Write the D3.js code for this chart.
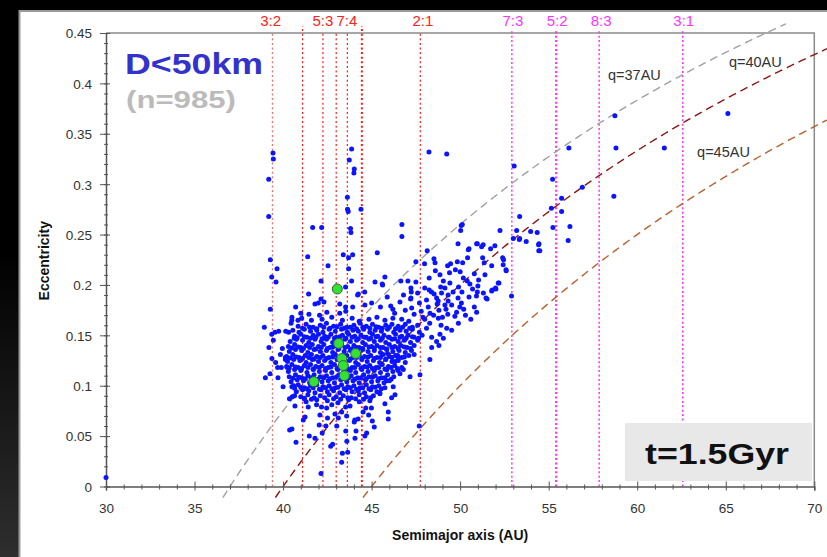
<!DOCTYPE html>
<html><head><meta charset="utf-8">
<script src="https://cdn.jsdelivr.net/npm/d3@7"></script>
<style>html,body{margin:0;padding:0;background:#000;overflow:hidden}</style>
</head><body><svg id="c" width="827" height="557"></svg>
<script>
// ---------- data ----------
const xTicks = [30,35,40,45,50,55,60,65,70];
const yTicks = [0,0.05,0.1,0.15,0.2,0.25,0.3,0.35,0.4,0.45];
const yTickLabels = ["0","0.05","0.1","0.15","0.2","0.25","0.3","0.35","0.4","0.45"];

const resRedA = [39.4,41.1,42.25,43.0,43.63,44.45,47.75];
const resRedLabelA = [39.3,42.25,43.6,47.9];
const resRedLabelText = ["3:2","5:3","7:4","2:1"];
const resMagA = [52.92,55.42,57.85,62.57];
const resMagLabelText = ["7:3","5:2","8:3","3:1"];

const qValues = [37,40,45];
const qEndA = [68.4,70.8,70.8];
const qColors = ["#a0a0a0","#8e1414","#b9602f"];
const qLabelText = ["q=37AU","q=40AU","q=45AU"];
const qLabelA = [58.35,65.18,63.38];
const qLabelE = [0.4034,0.4163,0.3265];

const greenPts = [[43.06,0.196],[43.14,0.142],[44.1,0.132],[43.32,0.127],[43.4,0.12],[43.46,0.110],[41.74,0.104]];

const kboSparse = [
[30.0,0.009],
[39.43,0.331],[39.45,0.325],[39.19,0.305],[39.19,0.268],[39.28,0.225],[39.36,0.208],[39.66,0.216],[39.6,0.203],[39.28,0.176],[38.94,0.158],[39.54,0.153],[39.36,0.151],[39.45,0.145],[39.2,0.138],[39.37,0.127],[39.58,0.123],[39.69,0.118],[39.26,0.112],[39.0,0.108],[39.71,0.108],
[39.96,0.137],[40.13,0.128],[40.24,0.118],[40.37,0.056],[40.5,0.057],[40.73,0.044],[40.71,0.178],[40.5,0.168],[40.45,0.162],[40.84,0.165],[40.31,0.153],[40.63,0.147],[40.6,0.1],[40.52,0.089],[40.67,0.08],
[43.87,0.335],[43.74,0.324],[44.02,0.315],[44.0,0.311],[43.63,0.287],[43.64,0.275],[43.68,0.273],[44.4,0.275],[41.67,0.257],[42.18,0.257],[43.81,0.256],[43.83,0.252],[46.71,0.26],[46.71,0.248],[48.24,0.332],[49.24,0.33],[53.05,0.318],[50.03,0.254],[50.06,0.259],
[41.39,0.228],[42.54,0.219],[42.14,0.204],[43.4,0.23],[43.7,0.227],[43.7,0.216],[45.32,0.232],[41.44,0.191],[43.53,0.198],[44.21,0.19],[44.61,0.193],[45.75,0.208],[45.62,0.2],[43.93,0.23],[43.87,0.204],[45.19,0.203],[45.6,0.201],
[53.36,0.268],[52.25,0.254],[53.19,0.254],[53.36,0.246],[53.73,0.243],[54.35,0.252],[54.43,0.24],[54.44,0.234],[52.9,0.189],[52.6,0.214],[52.4,0.227],[50.93,0.241],[51.3,0.24],[51.72,0.236],[51.96,0.239],[50.5,0.236],
[58.74,0.368],[65.12,0.37],[58.8,0.336],[61.53,0.336],[58.68,0.288],[56.14,0.336],[55.22,0.305],[56.9,0.297],[55.73,0.286],[55.15,0.276],[55.73,0.273],[55.24,0.257],[56.2,0.258],[56.1,0.244],[53.0,0.246],[53.98,0.253],[54.45,0.241],[54.5,0.234],[52.43,0.22],[51.27,0.227],[51.78,0.219],[52.19,0.202],[51.81,0.195],[52.0,0.197],[51.46,0.187],
[50.12,0.26],[53.34,0.245],[49.88,0.241],[50.97,0.241],[51.21,0.238],[50.46,0.235],[48.14,0.234],[48.52,0.226],[48.58,0.222],[49.84,0.223],[50.14,0.222],[50.42,0.227],[49.46,0.221],[49.29,0.219],[49.73,0.215],[52.45,0.225],[52.59,0.215],[51.36,0.222],[47.99,0.221],[47.5,0.223],
[48.25,0.207],[48.86,0.21],[49.05,0.204],[49.42,0.202],[49.14,0.197],[50.18,0.207],[50.4,0.204],[51.04,0.205],[50.55,0.201],[52.15,0.202],[52.02,0.196],[51.78,0.194],[50.97,0.193],[51.31,0.192],[49.91,0.198],
[46.65,0.204],[47.05,0.204],[47.5,0.203],[47.22,0.197],[47.24,0.193],[47.22,0.187],[45.88,0.188],[48.25,0.195],[48.38,0.193],[48.53,0.191],[48.67,0.187],[48.95,0.192],[48.76,0.184],[49.32,0.19],[49.32,0.184],[49.88,0.187],[50.07,0.182],[50.5,0.188],[50.92,0.189],[51.52,0.186],[48.2,0.178],[47.26,0.177],[46.08,0.179],[46.2,0.176],[49.14,0.18],[49.52,0.18],[49.98,0.178],
[50.93,0.173],[50.8,0.178],[49.9,0.162],[49.52,0.155],[49.24,0.157],[48.92,0.16],[48.77,0.167],[49.05,0.147],[48.8,0.14],[48.86,0.151],[48.39,0.148],[48.39,0.138],[48.29,0.126],[48.67,0.144],[48.1,0.157],[48.28,0.162],[48.0,0.166],[47.73,0.111],[47.17,0.109],[46.79,0.116],[46.6,0.112],[46.22,0.099],[46.32,0.091],[46.13,0.088],[45.75,0.082],[45.94,0.074],[45.94,0.067],[45.85,0.105],[45.47,0.092],[45.9,0.132],[46.47,0.13],[46.32,0.124],[45.85,0.116],[47.69,0.06],
[42.14,0.013],[43.31,0.024],[43.35,0.033],[43.65,0.034],[42.8,0.042],[42.69,0.04],[43.6,0.045],[41.48,0.05],[41.8,0.048],[42.21,0.053],[42.42,0.06],[42.04,0.061],[43.03,0.06],[43.54,0.055],[44.06,0.048],[44.12,0.055],[44.72,0.053],[44.62,0.05],[45.15,0.059],[45.04,0.065],[44.02,0.064],[42.08,0.071],[42.51,0.068],[41.24,0.069],[41.14,0.066],[42.46,0.078],[42.93,0.072],[43.12,0.068],[43.31,0.074],[43.59,0.07],[44.05,0.066],[44.24,0.067],[44.52,0.074],[44.83,0.071],[44.99,0.078],[44.67,0.078],[43.78,0.08],[43.53,0.079],[42.75,0.081],[42.17,0.079],[41.89,0.081],[41.42,0.079],[41.2,0.087],[40.65,0.09],[40.36,0.087],[45.46,0.093],
[44.25,0.191],[42.14,0.186],[42.31,0.183],[41.8,0.181],[41.99,0.182],[42.47,0.173],[42.06,0.17],[41.46,0.171],[41.0,0.172],[43.2,0.181],[43.53,0.178],[43.54,0.174],[43.2,0.172],[43.93,0.178],[44.62,0.18],[45.5,0.178],[45.0,0.182],[40.49,0.165],[40.15,0.154],[39.75,0.154],[40.13,0.126],[39.85,0.131],[40.0,0.099],[39.9,0.118]
];

const kboCore = [
[41.05,0.167],[41.6,0.165],[42.2,0.166],[42.75,0.168],[43.35,0.165],[43.9,0.167],[44.3,0.164],[44.85,0.166],[45.3,0.168],[45.75,0.165],[46.2,0.167],[46.7,0.166],[47.1,0.164],
[40.85,0.159],[41.3,0.161],[41.7,0.158],[42.1,0.16],[42.45,0.162],[42.85,0.159],[43.25,0.161],[43.6,0.158],[44.0,0.16],[44.35,0.162],[44.7,0.159],[45.05,0.161],[45.4,0.158],[45.8,0.16],[46.15,0.161],[46.5,0.159],[46.9,0.161],[47.3,0.158],[47.6,0.16],
[40.55,0.155],[40.9,0.153],[41.2,0.156],[41.55,0.154],[41.9,0.155],[42.25,0.153],[42.6,0.156],[42.95,0.154],[43.3,0.156],[43.62,0.153],[43.95,0.155],[44.25,0.154],[44.55,0.156],[44.9,0.153],[45.2,0.155],[45.55,0.154],[45.9,0.156],[46.25,0.153],[46.6,0.155],[46.95,0.154],[47.3,0.156],[47.7,0.153],
[40.65,0.149],[41.0,0.151],[41.35,0.148],[41.7,0.15],[42.0,0.151],[42.35,0.149],[42.7,0.151],[43.0,0.148],[43.35,0.15],[43.7,0.151],[44.05,0.149],[44.4,0.15],[44.7,0.148],[45.05,0.151],[45.35,0.149],[45.7,0.15],[46.0,0.148],[46.35,0.151],[46.7,0.149],[47.05,0.15],[47.4,0.148],[47.85,0.15],
[40.4,0.144],[40.75,0.146],[41.1,0.145],[41.45,0.143],[41.8,0.146],[42.15,0.144],[42.45,0.146],[42.8,0.143],[43.15,0.145],[43.5,0.146],[43.8,0.144],[44.15,0.145],[44.5,0.143],[44.85,0.146],[45.15,0.144],[45.5,0.145],[45.8,0.143],[46.15,0.146],[46.5,0.144],[46.85,0.145],[47.2,0.143],[47.6,0.145],
[40.3,0.139],[40.65,0.141],[41.0,0.138],[41.3,0.14],[41.65,0.141],[42.0,0.139],[42.3,0.141],[42.65,0.138],[42.95,0.14],[43.3,0.141],[43.65,0.139],[44.0,0.14],[44.3,0.138],[44.65,0.141],[45.0,0.139],[45.3,0.14],[45.65,0.138],[46.0,0.141],[46.3,0.139],[46.65,0.14],[47.0,0.138],[47.4,0.14],
[40.35,0.134],[40.7,0.136],[41.05,0.135],[41.4,0.133],[41.75,0.136],[42.1,0.134],[42.45,0.135],[42.8,0.133],[43.1,0.136],[43.45,0.134],[43.8,0.135],[44.15,0.133],[44.5,0.136],[44.8,0.134],[45.15,0.135],[45.5,0.133],[45.85,0.136],[46.2,0.134],[46.55,0.135],[46.9,0.133],[47.25,0.135],
[40.2,0.129],[40.55,0.131],[40.9,0.128],[41.25,0.13],[41.6,0.131],[41.9,0.129],[42.25,0.13],[42.6,0.128],[42.95,0.131],[43.25,0.129],[43.6,0.13],[43.95,0.128],[44.3,0.131],[44.6,0.129],[44.95,0.13],[45.3,0.128],[45.65,0.131],[46.0,0.129],[46.35,0.13],[46.7,0.128],[47.1,0.13],[47.4,0.131],
[40.25,0.124],[40.6,0.126],[40.95,0.125],[41.3,0.123],[41.65,0.126],[42.0,0.124],[42.35,0.125],[42.7,0.123],[43.05,0.126],[43.4,0.124],[43.75,0.125],[44.1,0.123],[44.45,0.126],[44.75,0.124],[45.1,0.125],[45.45,0.123],[45.8,0.126],[46.15,0.124],[46.5,0.125],[46.9,0.123],
[40.2,0.119],[40.5,0.121],[40.85,0.118],[41.2,0.12],[41.55,0.121],[41.85,0.119],[42.2,0.12],[42.55,0.118],[42.9,0.121],[43.2,0.119],[43.55,0.12],[43.9,0.118],[44.25,0.121],[44.6,0.119],[44.9,0.12],[45.25,0.118],[45.6,0.121],[45.95,0.119],[46.3,0.12],[46.7,0.118],
[40.3,0.114],[40.65,0.116],[41.0,0.115],[41.35,0.113],[41.7,0.116],[42.05,0.114],[42.4,0.115],[42.75,0.113],[43.1,0.116],[43.45,0.114],[43.8,0.115],[44.1,0.113],[44.45,0.116],[44.8,0.114],[45.15,0.115],[45.5,0.113],[45.85,0.116],[46.2,0.114],[46.5,0.115],
[40.35,0.109],[40.7,0.111],[41.05,0.108],[41.4,0.11],[41.75,0.111],[42.1,0.109],[42.45,0.11],[42.8,0.108],[43.15,0.111],[43.5,0.109],[43.85,0.11],[44.2,0.108],[44.55,0.111],[44.85,0.109],[45.2,0.11],[45.55,0.108],[45.9,0.111],[46.25,0.109],
[40.45,0.104],[40.8,0.106],[41.15,0.105],[41.5,0.103],[41.85,0.106],[42.2,0.104],[42.55,0.105],[42.9,0.103],[43.25,0.106],[43.6,0.104],[43.95,0.105],[44.3,0.103],[44.65,0.106],[45.0,0.104],[45.35,0.105],[45.7,0.103],[46.0,0.105],
[40.5,0.099],[40.85,0.101],[41.2,0.098],[41.55,0.1],[41.9,0.101],[42.25,0.099],[42.6,0.1],[42.95,0.098],[43.3,0.101],[43.65,0.099],[44.0,0.1],[44.35,0.098],[44.7,0.101],[45.05,0.099],[45.4,0.1],[45.75,0.098],
[40.75,0.094],[41.1,0.096],[41.45,0.095],[41.8,0.093],[42.15,0.096],[42.5,0.094],[42.85,0.095],[43.2,0.093],[43.55,0.096],[43.9,0.094],[44.25,0.095],[44.6,0.093],[44.95,0.096],[45.3,0.094],
[41.0,0.089],[41.4,0.091],[41.75,0.088],[42.1,0.09],[42.6,0.091],[43.0,0.089],[43.4,0.09],[43.85,0.088],[44.3,0.091],[44.7,0.089],[45.1,0.09],
[41.3,0.084],[41.9,0.086],[42.5,0.085],[43.1,0.083],[43.7,0.086],[44.3,0.084],[44.9,0.085],
[46.3,0.172],[46.9,0.175],[47.4,0.171],[47.8,0.174],[48.3,0.172],[48.8,0.175],[49.3,0.171],[49.8,0.173],[50.3,0.17],[46.6,0.183],[47.2,0.186],[47.7,0.182],[48.1,0.185],[48.7,0.181],[49.2,0.176],[49.7,0.169],[50.2,0.176],[50.6,0.166],[47.9,0.168],[48.5,0.17],[49.0,0.168],[46.8,0.19],[47.6,0.192],[48.0,0.197],[48.9,0.198],[49.6,0.193],[50.1,0.193],[50.7,0.196],[51.0,0.199],[49.4,0.212],[50.0,0.213],[50.8,0.211],[51.4,0.21],[48.6,0.214]
];

const kboCoreFill = [
[41.1,0.157],[41.5,0.158],[41.9,0.1565],[42.3,0.158],[42.65,0.157],[43.05,0.1585],[43.45,0.157],[43.8,0.158],[44.15,0.1565],[44.5,0.158],[44.9,0.157],[45.25,0.1585],[45.6,0.157],[46.0,0.158],[46.35,0.1565],[46.75,0.158],[47.15,0.157],
[40.8,0.1475],[41.2,0.1485],[41.55,0.147],[41.85,0.148],[42.2,0.1465],[42.55,0.148],[42.9,0.147],[43.2,0.1485],[43.55,0.147],[43.9,0.148],[44.25,0.1465],[44.6,0.148],[44.95,0.147],[45.25,0.1485],[45.6,0.147],[45.95,0.148],[46.3,0.1465],[46.6,0.148],[46.95,0.147],[47.3,0.1485],[47.65,0.147],
[40.5,0.1375],[40.85,0.1385],[41.15,0.137],[41.5,0.138],[41.85,0.1365],[42.15,0.138],[42.5,0.137],[42.8,0.1385],[43.15,0.137],[43.5,0.138],[43.85,0.1365],[44.15,0.138],[44.5,0.137],[44.85,0.1385],[45.15,0.137],[45.5,0.138],[45.85,0.1365],[46.15,0.138],[46.5,0.137],[46.85,0.1385],[47.2,0.137],
[40.4,0.1275],[40.75,0.1285],[41.1,0.127],[41.45,0.128],[41.75,0.1265],[42.1,0.128],[42.45,0.127],[42.8,0.1285],[43.1,0.127],[43.45,0.128],[43.8,0.1265],[44.15,0.128],[44.45,0.127],[44.8,0.1285],[45.15,0.127],[45.5,0.128],[45.8,0.1265],[46.15,0.128],[46.5,0.127],[46.85,0.1285],
[40.35,0.1175],[40.7,0.1185],[41.05,0.117],[41.4,0.118],[41.7,0.1165],[42.05,0.118],[42.4,0.117],[42.7,0.1185],[43.05,0.117],[43.4,0.118],[43.7,0.1165],[44.05,0.118],[44.4,0.117],[44.75,0.1185],[45.05,0.117],[45.4,0.118],[45.75,0.1165],[46.1,0.118],[46.45,0.117],
[40.55,0.1075],[40.9,0.1085],[41.25,0.107],[41.6,0.108],[41.95,0.1065],[42.3,0.108],[42.65,0.107],[43.0,0.1085],[43.35,0.107],[43.7,0.108],[44.05,0.1065],[44.4,0.108],[44.7,0.107],[45.05,0.1085],[45.4,0.107],[45.75,0.108],[46.1,0.1065],
[40.65,0.0975],[41.0,0.0985],[41.35,0.097],[41.7,0.098],[42.05,0.0965],[42.4,0.098],[42.75,0.097],[43.1,0.0985],[43.45,0.097],[43.8,0.098],[44.15,0.0965],[44.5,0.098],[44.85,0.097],[45.2,0.0985],[45.55,0.097],
[41.2,0.0875],[41.6,0.0865],[42.35,0.088],[42.85,0.087],[43.25,0.0865],[43.65,0.088],[44.1,0.087],[44.55,0.0865],[44.95,0.088]
];

// ---------- drawing ----------
const W = 827, H = 557;
const svg = d3.select("#c");
const defs = svg.append("defs");
const lg = defs.append("linearGradient").attr("id","strip").attr("x1",0).attr("y1",0).attr("x2",0).attr("y2",1);
lg.append("stop").attr("offset","0.45").attr("stop-color","#000");
lg.append("stop").attr("offset","1").attr("stop-color","#2e2e2e");

svg.append("rect").attr("width",W).attr("height",H).attr("fill","#000");
svg.append("rect").attr("x",0).attr("y",0).attr("width",19).attr("height",H).attr("fill","url(#strip)");
svg.append("rect").attr("x",19.5).attr("y",11).attr("width",830).attr("height",560)
  .attr("fill","#fff").attr("stroke","#9a9a9a").attr("stroke-width",2);

const x = d3.scaleLinear().domain([30,70]).range([106,814.3]);
const y = d3.scaleLinear().domain([0,0.45]).range([486.5,33]);

// frame (top + right)
svg.append("path")
  .attr("d", `M${x(30)},${y(0.45)}H${x(70)}V${y(0)}`)
  .attr("fill","none").attr("stroke","#8a8a8a").attr("stroke-width",1.5);

// resonance lines
const gRes = svg.append("g");
gRes.selectAll("line.red").data(resRedA).join("line")
  .attr("x1",d=>x(d)).attr("x2",d=>x(d))
  .attr("y1",y(0)).attr("y2",(d,i)=> (i===1||i===5) ? y(0.45)-7 : y(0.45))
  .attr("stroke",(d,i)=> i===0 ? "#ff6a6a" : "#ff1a1a")
  .attr("stroke-width",(d,i)=> i===5 ? 2 : 1.2)
  .attr("stroke-dasharray","2,2.6");
gRes.selectAll("line.mag").data(resMagA).join("line")
  .attr("x1",d=>x(d)).attr("x2",d=>x(d))
  .attr("y1",y(0)).attr("y2",y(0.45)-2)
  .attr("stroke","#ff33ff")
  .attr("stroke-width",(d,i)=> i===1 ? 2.2 : 1.5)
  .attr("stroke-dasharray","2,2.4");

const labFont = "'Liberation Sans', Arial, sans-serif";
gRes.selectAll("text.rl").data(resRedLabelA).join("text")
  .attr("x",d=>x(d)).attr("y",26).attr("text-anchor","middle")
  .attr("font-family",labFont).attr("font-size",15).attr("fill","#ff2020")
  .text((d,i)=>resRedLabelText[i]);
gRes.selectAll("text.ml").data(resMagA).join("text")
  .attr("x",(d,i)=>x(d)+(i===2?2:1)).attr("y",26).attr("text-anchor","middle")
  .attr("font-family",labFont).attr("font-size",15).attr("fill","#ff33ff")
  .text((d,i)=>resMagLabelText[i]);

// perihelion curves
const line = d3.line().x(d=>x(d[0])).y(d=>y(d[1]));
qValues.forEach((q,i)=>{
  const a0 = q/1.011;
  const pts = d3.range(a0, qEndA[i]+0.001, 0.1).map(a=>[a, 1 - q/a]);
  svg.append("path").attr("d",line(pts)).attr("fill","none")
    .attr("stroke",qColors[i]).attr("stroke-width",1.4)
    .attr("stroke-dasharray","8,5");
  svg.append("text").attr("x",x(qLabelA[i])).attr("y",y(qLabelE[i]))
    .attr("font-family",labFont).attr("font-size",14.5).attr("fill","#333")
    .text(qLabelText[i]);
});

// axes
const axisCol = "#555";
const gx = svg.append("g").attr("transform",`translate(0,${y(0)})`);
gx.call(d3.axisBottom(x).tickValues(d3.range(30,71,1).filter(v=>v%5!==0)).tickFormat("").tickSizeOuter(0).tickSize(3));
gx.selectAll(".tick line").attr("y1",-2).attr("y2",3).attr("stroke",axisCol);
const gx2 = svg.append("g").attr("transform",`translate(0,${y(0)})`);
gx2.call(d3.axisBottom(x).tickValues(xTicks).tickSizeOuter(0).tickSize(4));
gx2.selectAll(".tick line").attr("y1",-5).attr("y2",4).attr("stroke",axisCol);
gx2.selectAll(".tick text").attr("y",26).attr("dy",0)
  .attr("font-family",labFont).attr("font-size",13.5).attr("fill","#333");
gx.select(".domain").remove();
gx2.select(".domain").attr("stroke",axisCol).attr("stroke-width",1.5);

const gy = svg.append("g").attr("transform",`translate(${x(30)},0)`);
gy.call(d3.axisLeft(y).tickValues(d3.range(0,0.451,0.01)).tickFormat("").tickSizeOuter(0));
gy.selectAll(".tick line").attr("x1",-2).attr("x2",2).attr("stroke",axisCol);
gy.select(".domain").remove();
const gy2 = svg.append("g").attr("transform",`translate(${x(30)},0)`);
gy2.call(d3.axisLeft(y).tickValues(yTicks).tickFormat((d,i)=>yTickLabels[i]).tickSizeOuter(0));
gy2.selectAll(".tick line").attr("x1",-6).attr("x2",4).attr("stroke",axisCol);
gy2.selectAll(".tick text").attr("x",-14).attr("dy","0.36em")
  .attr("font-family",labFont).attr("font-size",13.5).attr("fill","#333");
gy2.select(".domain").attr("stroke",axisCol).attr("stroke-width",1.5);
gx.selectAll("text").remove(); gy.selectAll("text").remove();

// axis titles
svg.append("text").attr("x",(x(30)+x(70))/2).attr("y",540).attr("text-anchor","middle")
  .attr("font-family",labFont).attr("font-weight","bold").attr("font-size",14).attr("fill","#111")
  .text("Semimajor axis (AU)");
svg.append("text").attr("transform",`translate(49,${(y(0)+y(0.45))/2+1}) rotate(-90)`)
  .attr("text-anchor","middle")
  .attr("font-family",labFont).attr("font-weight","bold").attr("font-size",14).attr("fill","#111")
  .text("Eccentricity");

// points
const allPts = kboSparse.concat(kboCore, kboCoreFill);
svg.append("g").selectAll("circle").data(allPts).join("circle")
  .attr("cx",d=>x(d[0])).attr("cy",d=>y(d[1])).attr("r",2.5).attr("fill","#0a14ff");
svg.append("g").selectAll("circle").data(greenPts).join("circle")
  .attr("cx",d=>x(d[0])).attr("cy",d=>y(d[1])).attr("r",5)
  .attr("fill","#35e035").attr("stroke","#2a6a2a").attr("stroke-width",1);

// annotations
svg.append("text").attr("x",125).attr("y",74)
  .attr("font-family",labFont).attr("font-weight","bold").attr("font-size",29.5).attr("fill","#3333cc")
  .attr("textLength",138).attr("lengthAdjust","spacingAndGlyphs").text("D<50km");
svg.append("text").attr("x",126).attr("y",108)
  .attr("font-family",labFont).attr("font-weight","bold").attr("font-size",24.7).attr("fill","#bbbbbb")
  .attr("textLength",110).attr("lengthAdjust","spacingAndGlyphs").text("(n=985)");

svg.append("rect").attr("x",625).attr("y",423).attr("width",187).attr("height",58).attr("fill","#e8e8e8");
svg.append("text").attr("x",645).attr("y",464)
  .attr("font-family",labFont).attr("font-weight","bold").attr("font-size",29.7).attr("fill","#111")
  .attr("textLength",144).attr("lengthAdjust","spacingAndGlyphs").text("t=1.5Gyr");
</script></body></html>
